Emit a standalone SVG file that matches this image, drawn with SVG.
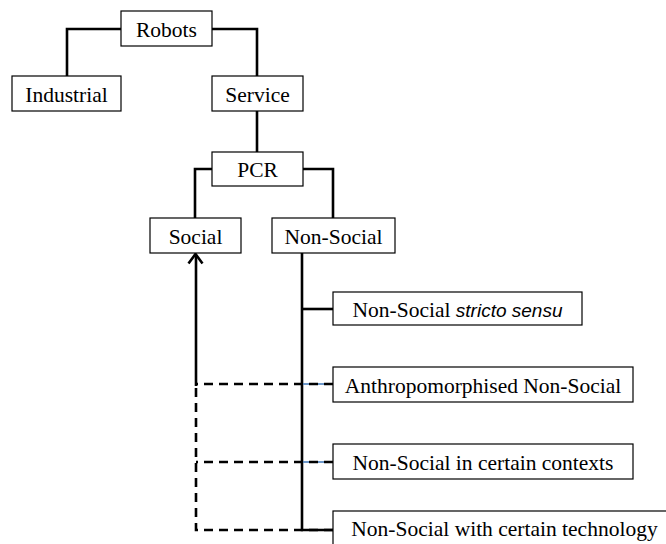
<svg xmlns="http://www.w3.org/2000/svg" width="666" height="544" viewBox="0 0 666 544">
<style>
.box{fill:#fff;stroke:#000;stroke-width:1.2}
.t{font-family:"Liberation Serif","Times New Roman",serif;font-size:21.5px;fill:#000;text-anchor:middle}
.i{font-family:"Liberation Sans",Arial,sans-serif;font-style:italic;font-size:19px}
.c{fill:none;stroke:#000;stroke-width:2.6}
.d{fill:none;stroke:#000;stroke-width:2.6;stroke-dasharray:9 6}
.b{fill:none;stroke:#4a7ebb;stroke-width:1.6}
</style>
<rect width="666" height="544" fill="#fff"/>
<g id="connectors">
<path class="c" d="M121,29 H67 V76"/>
<path class="c" d="M212,29 H257 V76"/>
<path class="c" d="M257,111 V152"/>
<path class="c" d="M212,169 H195 V218"/>
<path class="c" d="M303,169 H333 V218"/>
<path class="c" d="M302,253 V530 H333"/>
<path class="c" d="M302,309 H333"/>
<path class="b" d="M302,384 H333"/>
<path class="b" d="M302,462 H333"/>
<path class="d" d="M333,384 H196"/>
<path class="d" d="M333,462 H196"/>
<path class="d" d="M333,530 H196 V384"/>
<path class="c" d="M196,386 V255"/>
<path class="c" d="M188.5,263.5 L195.5,254 L202.5,263.5"/>
</g>
<g id="robots"><rect class="box" x="121" y="11" width="91" height="35"/><text class="t" x="166.5" y="36.5">Robots</text></g>
<g id="industrial"><rect class="box" x="12" y="76" width="109" height="35"/><text class="t" x="66.5" y="101.5">Industrial</text></g>
<g id="service"><rect class="box" x="212" y="76" width="91" height="35"/><text class="t" x="257.5" y="101.5">Service</text></g>
<g id="pcr"><rect class="box" x="212" y="152" width="91" height="34"/><text class="t" x="257.5" y="177">PCR</text></g>
<g id="social"><rect class="box" x="150" y="218" width="91" height="35"/><text class="t" x="195.5" y="243.5">Social</text></g>
<g id="nonsocial"><rect class="box" x="272" y="218" width="123" height="35"/><text class="t" x="333.5" y="243.5">Non-Social</text></g>
<g id="stricto"><rect class="box" x="333" y="292" width="249" height="33"/><text class="t" x="457.5" y="316.5">Non-Social <tspan class="i">stricto sensu</tspan></text></g>
<g id="anthro"><rect class="box" x="333" y="367" width="300" height="35"/><text class="t" x="483" y="392.5">Anthropomorphised Non-Social</text></g>
<g id="contexts"><rect class="box" x="333" y="444" width="300" height="35"/><text class="t" x="483" y="469.5">Non-Social in certain contexts</text></g>
<g id="technology"><rect class="box" x="333" y="511" width="343" height="40"/><text class="t" x="504.5" y="536">Non-Social with certain technology</text></g>
</svg>
